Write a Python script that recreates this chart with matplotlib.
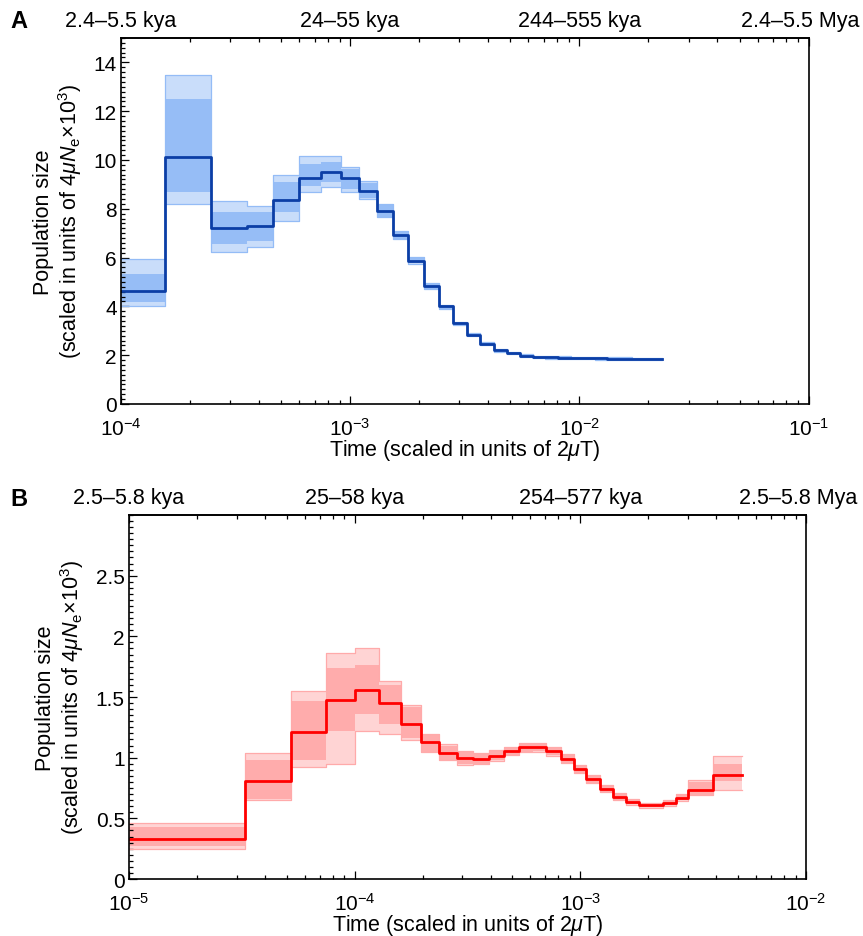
import numpy as np
import matplotlib
matplotlib.use('Agg')
import matplotlib.pyplot as plt
import matplotlib.transforms as mtransforms
from matplotlib.ticker import MultipleLocator, FormatStrFormatter

plt.rcParams['font.family'] = ['Liberation Sans', 'DejaVu Sans']
plt.rcParams['mathtext.fontset'] = 'custom'
plt.rcParams['mathtext.rm'] = 'Liberation Sans'
plt.rcParams['mathtext.it'] = 'Liberation Sans:italic'
plt.rcParams['axes.unicode_minus'] = False

# ---- Panel A data (time bin edges, median curve, bootstrap envelopes) ----
A_EDGES = [1e-4, 1.56e-4, 2.48e-4, 3.54e-4, 4.63e-4, 5.99e-4, 7.47e-4, 9.11e-4,
           1.098e-3, 1.307e-3, 1.535e-3, 1.795e-3, 2.10e-3, 2.44e-3, 2.80e-3,
           3.23e-3, 3.69e-3, 4.25e-3, 4.85e-3, 5.51e-3, 6.26e-3, 7.08e-3, 8.09e-3,
           9.16e-3, 1.038e-2, 1.17e-2, 1.315e-2, 1.69e-2, 2.29e-2]
A_VALUES = [4.62, 10.14, 7.23, 7.28, 8.37, 9.27, 9.50, 9.25, 8.73, 7.92, 6.94, 5.87,
            4.85, 4.00, 3.31, 2.84, 2.46, 2.21, 2.09, 1.98, 1.93, 1.91, 1.90, 1.89,
            1.88, 1.87, 1.86, 1.83]
A_OUTER_HI = [5.94, 13.48, 8.33, 8.13, 9.39, 10.15, 10.15, 9.73, 9.13, 8.20, 7.10, 6.01,
              4.95, 4.06, 3.38, 2.90, 2.52, 2.27, 2.14, 2.03, 1.98, 1.96, 1.95, 1.94,
              1.93, 1.92, 1.91, 1.87]
A_CORE_HI = [5.33, 12.50, 7.86, 7.86, 9.09, 9.84, 9.90, 9.63, 9.05, 8.15, 7.06, 5.98,
             4.93, 4.05, 3.37, 2.89, 2.51, 2.26, 2.13, 2.02, 1.97, 1.95, 1.94, 1.93,
             1.92, 1.91, 1.90, 1.86]
A_CORE_LO = [4.17, 8.68, 6.56, 6.69, 7.86, 8.95, 9.09, 8.82, 8.45, 7.68, 6.78, 5.76,
             4.73, 3.91, 3.25, 2.79, 2.41, 2.16, 2.05, 1.94, 1.89, 1.87, 1.86, 1.85,
             1.84, 1.83, 1.82, 1.80]
A_OUTER_LO = [4.03, 8.20, 6.22, 6.42, 7.51, 8.68, 8.88, 8.70, 8.40, 7.65, 6.76, 5.74,
              4.71, 3.89, 3.24, 2.78, 2.40, 2.15, 2.04, 1.93, 1.88, 1.86, 1.85, 1.84,
              1.83, 1.82, 1.81, 1.79]
A_YTICKS = [0, 2, 4, 6, 8, 10, 12, 14]
A_TOP_LABELS = ['2.4\u20135.5 kya', '24\u201355 kya', '244\u2013555 kya', '2.4\u20135.5 Mya']
A_TOP_POS = [1e-4, 1e-3, 1e-2, 1e-1]

# ---- Panel B data ----
B_EDGES = [1e-5, 3.28e-5, 5.24e-5, 7.49e-5, 1.003e-4, 1.281e-4, 1.61e-4, 1.96e-4,
           2.36e-4, 2.83e-4, 3.36e-4, 3.93e-4, 4.57e-4, 5.33e-4, 6.17e-4, 7.06e-4,
           8.18e-4, 9.34e-4, 1.064e-3, 1.226e-3, 1.395e-3, 1.6e-3, 1.82e-3, 2.32e-3,
           2.64e-3, 3.01e-3, 3.87e-3, 5.22e-3]
B_VALUES = [0.33, 0.81, 1.21, 1.475, 1.555, 1.447, 1.275, 1.127, 1.035, 0.995, 0.99,
            1.018, 1.056, 1.085, 1.09, 1.053, 0.99, 0.904, 0.822, 0.743, 0.678, 0.634,
            0.607, 0.629, 0.669, 0.732, 0.857]
B_OUTER_HI = [0.465, 1.039, 1.553, 1.861, 1.902, 1.63, 1.434, 1.194, 1.113, 1.059, 1.04,
              1.06, 1.09, 1.12, 1.125, 1.09, 1.03, 0.94, 0.855, 0.775, 0.71, 0.66,
              0.63, 0.655, 0.70, 0.814, 1.018]
B_CORE_HI = [0.43, 0.98, 1.47, 1.74, 1.76, 1.60, 1.42, 1.19, 1.10, 1.05, 1.035, 1.055,
             1.085, 1.115, 1.12, 1.085, 1.025, 0.935, 0.85, 0.77, 0.705, 0.655, 0.625,
             0.65, 0.695, 0.80, 0.95]
B_CORE_LO = [0.27, 0.66, 0.98, 1.22, 1.36, 1.28, 1.16, 1.05, 0.98, 0.945, 0.95, 0.98,
             1.025, 1.05, 1.055, 1.02, 0.96, 0.875, 0.795, 0.72, 0.655, 0.615, 0.59,
             0.61, 0.65, 0.695, 0.81]
B_OUTER_LO = [0.247, 0.651, 0.922, 0.949, 1.222, 1.194, 1.145, 1.045, 0.977, 0.94, 0.945,
              0.975, 1.02, 1.045, 1.05, 1.015, 0.955, 0.87, 0.79, 0.715, 0.65, 0.61,
              0.585, 0.605, 0.645, 0.691, 0.732]
B_YTICKS = [0, 0.5, 1, 1.5, 2, 2.5]
B_TOP_LABELS = ['2.5\u20135.8 kya', '25\u201358 kya', '254\u2013577 kya', '2.5\u20135.8 Mya']
B_TOP_POS = [1e-5, 1e-4, 1e-3, 1e-2]

FS = 15.5
TICK_FS = 15
YLABEL = 'Population size\n(scaled in units of 4$\\mu N_{\\rm e}$\u00d710$^{3}$)'
XLABEL = 'Time (scaled in units of 2$\\mu$T)'


def ext(v):
    # repeat last value so step='post' draws the final bin
    return list(v) + [v[-1]]


def draw_panel(ax, edges, vals, ohi, chi, clo, olo, band_col, line_col,
               xlim, ylim, yticks, minor, top_pos, top_labels):
    ax.fill_between(edges, ext(olo), ext(ohi), step='post', color=band_col,
                    alpha=0.5, lw=0)
    ax.fill_between(edges, ext(clo), ext(chi), step='post', color=band_col,
                    alpha=0.95, lw=0)
    ax.step(edges, ext(ohi), where='post', color=band_col, lw=0.9)
    ax.step(edges, ext(olo), where='post', color=band_col, lw=0.9)
    ax.step(edges, ext(vals), where='post', color=line_col, lw=2.0)

    ax.set_xscale('log')
    ax.set_xlim(*xlim)
    ax.set_ylim(*ylim)
    ax.set_yticks(yticks)
    ax.yaxis.set_minor_locator(MultipleLocator(minor))
    ax.yaxis.set_major_formatter(FormatStrFormatter('%g'))
    ax.tick_params(which='both', direction='in', top=False, right=False,
                   labelsize=TICK_FS, width=0.9)
    ax.tick_params(which='major', length=6)
    ax.tick_params(which='minor', length=3)
    ax.tick_params(axis='y', pad=3)
    ax.tick_params(axis='x', pad=9)
    for s in ax.spines.values():
        s.set_linewidth(1.2)

    sec = ax.secondary_xaxis('top')
    sec.set_xticks(top_pos, labels=top_labels)
    sec.tick_params(which='both', direction='in', labelsize=FS, width=0.9, pad=5)
    sec.tick_params(which='major', length=6)
    sec.tick_params(which='minor', length=3)
    sec.spines['top'].set_linewidth(1.2)
    # last label sits a little left of its tick, as in the original
    last = sec.get_xticklabels()[-1]
    last.set_transform(last.get_transform() +
                       mtransforms.ScaledTranslation(-8 / 100, 0, ax.figure.dpi_scale_trans))

    ax.set_xlabel(XLABEL, fontsize=FS, labelpad=-1)
    ax.set_ylabel(YLABEL, fontsize=FS, labelpad=7, linespacing=1.1)


fig = plt.figure(figsize=(8.63, 9.37), dpi=100)
axA = fig.add_axes([0.140, 0.5678, 0.797, 0.3906])
axB = fig.add_axes([0.1495, 0.0608, 0.7845, 0.3885])

draw_panel(axA, A_EDGES, A_VALUES, A_OUTER_HI, A_CORE_HI, A_CORE_LO, A_OUTER_LO,
           '#94bcf6', '#0b3ea6', (1e-4, 1e-1), (0, 15), A_YTICKS, 0.2,
           A_TOP_POS, A_TOP_LABELS)
draw_panel(axB, B_EDGES, B_VALUES, B_OUTER_HI, B_CORE_HI, B_CORE_LO, B_OUTER_LO,
           '#ffaaaa', '#ff0000', (1e-5, 1e-2), (0, 3), B_YTICKS, 0.05,
           B_TOP_POS, B_TOP_LABELS)

fig.text(0.012, 1 - 22 / 937, 'A', fontsize=17, fontweight='bold', va='center')
fig.text(0.012, 1 - 500 / 937, 'B', fontsize=17, fontweight='bold', va='center')

fig.savefig('out.png', dpi=100)
